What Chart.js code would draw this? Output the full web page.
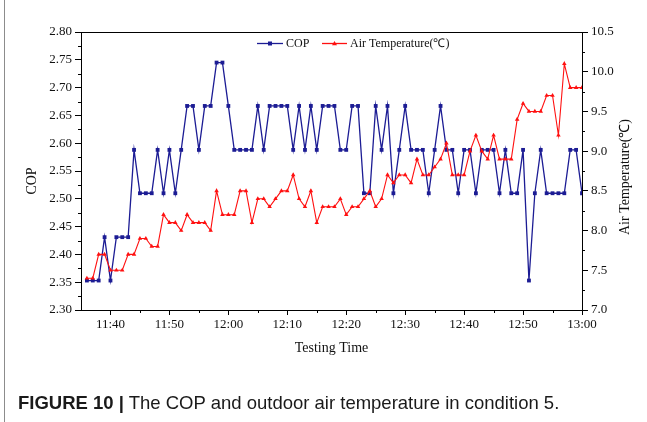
<!DOCTYPE html>
<html><head><meta charset="utf-8">
<script src="https://cdn.jsdelivr.net/npm/chart.js@4.4.1/dist/chart.umd.min.js"></script>
<style>
html,body{margin:0;padding:0;background:#fff;}
#wrap{position:relative;width:647px;height:422px;overflow:hidden;background:#fff;}
#c{position:absolute;left:0;top:0;}
#frame{position:absolute;left:4px;top:0;width:1px;height:422px;background:#8c8c8c;}
#cap{position:absolute;left:18px;top:392px;font-family:"Liberation Sans",Arial,sans-serif;font-size:18.5px;color:#1a1a1a;white-space:nowrap;line-height:22px;}
#cap b{font-weight:bold;}
</style></head><body>
<div id="wrap"><canvas id="c" width="647" height="422"></canvas><div id="frame"></div>
<div id="cap"><b>FIGURE 10 |</b> The COP and outdoor air temperature in condition 5.</div></div>
<script>
const timeLabels = ["11:36","11:37","11:38","11:39","11:40","11:41","11:42","11:43","11:44","11:45",
"11:46","11:47","11:48","11:49","11:50","11:51","11:52","11:53","11:54","11:55",
"11:56","11:57","11:58","11:59","12:00","12:01","12:02","12:03","12:04","12:05",
"12:06","12:07","12:08","12:09","12:10","12:11","12:12","12:13","12:14","12:15",
"12:16","12:17","12:18","12:19","12:20","12:21","12:22","12:23","12:24","12:25",
"12:26","12:27","12:28","12:29","12:30","12:31","12:32","12:33","12:34","12:35",
"12:36","12:37","12:38","12:39","12:40","12:41","12:42","12:43","12:44","12:45",
"12:46","12:47","12:48","12:49","12:50","12:51","12:52","12:53","12:54","12:55",
"12:56","12:57","12:58","12:59","13:00"];
const copValues = [2.353,2.353,2.353,2.431,2.353,2.431,2.431,2.431,2.588,2.510,
2.510,2.510,2.588,2.510,2.588,2.510,2.588,2.667,2.667,2.588,
2.667,2.667,2.745,2.745,2.667,2.588,2.588,2.588,2.588,2.667,
2.588,2.667,2.667,2.667,2.667,2.588,2.667,2.588,2.667,2.588,
2.667,2.667,2.667,2.588,2.588,2.667,2.667,2.510,2.510,2.667,
2.588,2.667,2.510,2.588,2.667,2.588,2.588,2.588,2.510,2.588,
2.667,2.588,2.588,2.510,2.588,2.588,2.510,2.588,2.588,2.588,
2.510,2.588,2.510,2.510,2.588,2.353,2.510,2.588,2.510,2.510,
2.510,2.510,2.588,2.588,2.510];
const tempValues = [7.4,7.4,7.7,7.7,7.5,7.5,7.5,7.7,7.7,7.9,
7.9,7.8,7.8,8.2,8.1,8.1,8.0,8.2,8.1,8.1,
8.1,8.0,8.5,8.2,8.2,8.2,8.5,8.5,8.1,8.4,
8.4,8.3,8.4,8.5,8.5,8.7,8.4,8.3,8.5,8.1,
8.3,8.3,8.3,8.4,8.2,8.3,8.3,8.4,8.5,8.3,
8.4,8.7,8.6,8.7,8.7,8.6,8.9,8.7,8.7,8.8,
8.9,9.1,8.7,8.7,8.7,9.0,9.2,9.0,8.9,9.2,
8.9,8.9,8.9,9.4,9.6,9.5,9.5,9.5,9.7,9.7,
9.2,10.1,9.8,9.8,9.8];
const xTickLabels = ["11:40","11:50","12:00","12:10","12:20","12:30","12:40","12:50","13:00"];
const xMinorLabels = ["11:45","11:55","12:05","12:15","12:25","12:35","12:45","12:55"];
const copTickLabels = ["2.30","2.35","2.40","2.45","2.50","2.55","2.60","2.65","2.70","2.75","2.80"];
const tempTickLabels = ["7.0","7.5","8.0","8.5","9.0","9.5","10.0","10.5"];
const xStart = "11:35", xEnd = "13:00";

const toMin = s => { const p = s.split(':').map(Number); const q = xStart.split(':').map(Number); return p[0]*60+p[1]-(q[0]*60+q[1]); };
const fromMin = v => { const q = xStart.split(':').map(Number); const t = q[0]*60+q[1]+Math.round(v); return Math.floor(t/60)+':'+String(t%60).padStart(2,'0'); };

const FONT = '"Liberation Serif","Times New Roman",serif';
const BLUE = '#1c1c94', RED = '#ff1010';

const extras = {
  id:'extras',
  afterDraw(chart){
    const ctx = chart.ctx, a = chart.chartArea;
    const sx = chart.scales.x, sy = chart.scales.y, sy1 = chart.scales.y1;
    ctx.save();
    ctx.strokeStyle = '#000'; ctx.lineWidth = 1;
    ctx.beginPath(); ctx.moveTo(a.left, Math.round(a.top)+0.5); ctx.lineTo(a.right+0.5, Math.round(a.top)+0.5); ctx.stroke();
    ctx.beginPath();
    for (let i=0;i<copTickLabels.length-1;i++){
      const v=(parseFloat(copTickLabels[i])+parseFloat(copTickLabels[i+1]))/2;
      const y=Math.round(sy.getPixelForValue(v))+0.5;
      ctx.moveTo(a.left-3,y); ctx.lineTo(a.left,y);
    }
    for (let i=0;i<tempTickLabels.length-1;i++){
      const v=(parseFloat(tempTickLabels[i])+parseFloat(tempTickLabels[i+1]))/2;
      const y=Math.round(sy1.getPixelForValue(v))+0.5;
      ctx.moveTo(a.right,y); ctx.lineTo(a.right+3,y);
    }
    xMinorLabels.forEach(t=>{
      const x=Math.round(sx.getPixelForValue(toMin(t)))+0.5;
      ctx.moveTo(x,a.bottom); ctx.lineTo(x,a.bottom+3);
    });
    ctx.stroke();
    ctx.fillStyle = '#111';
    ctx.font = '14px '+FONT;
    ctx.textAlign='center'; ctx.textBaseline='middle';
    ctx.fillText('Testing Time', (a.left+a.right)/2, 348);
    ctx.save(); ctx.translate(32, 181); ctx.rotate(-Math.PI/2); ctx.fillText('COP',0,0); ctx.restore();
    ctx.save(); ctx.translate(625, 177); ctx.rotate(-Math.PI/2); ctx.fillText('Air Temperature(\u2103)',0,0); ctx.restore();
    const ly = 43.5;
    ctx.font = '12px '+FONT; ctx.textAlign='left';
    ctx.strokeStyle = BLUE; ctx.lineWidth = 1.3;
    ctx.beginPath(); ctx.moveTo(257,ly); ctx.lineTo(283,ly); ctx.stroke();
    ctx.fillStyle = BLUE; ctx.fillRect(268,ly-2,4,4);
    ctx.fillStyle = '#111'; ctx.fillText('COP', 286, ly);
    ctx.strokeStyle = RED;
    ctx.beginPath(); ctx.moveTo(322,ly); ctx.lineTo(347,ly); ctx.stroke();
    ctx.fillStyle = RED; ctx.beginPath(); ctx.moveTo(334.5,ly-2.6); ctx.lineTo(337,ly+1.8); ctx.lineTo(332,ly+1.8); ctx.closePath(); ctx.fill();
    ctx.fillStyle = '#111'; ctx.fillText('Air Temperature(\u2103)', 350, ly);
    ctx.restore();
  }
};

new Chart(document.getElementById('c'), {
  type:'line',
  data:{
    datasets:[
      {label:'COP', data: timeLabels.map((t,i)=>({x:toMin(t), y:copValues[i]})), yAxisID:'y',
       borderColor:BLUE, backgroundColor:BLUE, borderWidth:1.3, pointStyle:'rect', pointRadius:2.7,
       pointBorderWidth:0, pointBackgroundColor:BLUE, tension:0, order:1},
      {label:'Air Temperature(\u2103)', data: timeLabels.map((t,i)=>({x:toMin(t), y:tempValues[i]})), yAxisID:'y1',
       borderColor:RED, backgroundColor:RED, borderWidth:1.1, pointStyle:'triangle', pointRadius:2.6,
       pointBorderWidth:0, pointBackgroundColor:RED, tension:0, order:0}
    ]
  },
  options:{
    responsive:false, animation:false, devicePixelRatio:1,
    layout:{padding:{left:0,right:0,top:32,bottom:0}},
    plugins:{legend:{display:false}, title:{display:false}, tooltip:{enabled:false}},
    scales:{
      x:{type:'linear', position:'bottom', min:toMin(xStart), max:toMin(xEnd),
         afterBuildTicks:s=>{ s.ticks = xTickLabels.map(t=>({value:toMin(t)})); },
         afterFit:s=>{ s.height = 112; },
         ticks:{callback:v=>fromMin(v), color:'#111', font:{family:FONT,size:13}, padding:2, maxRotation:0, autoSkip:false},
         grid:{drawOnChartArea:false, drawTicks:true, tickLength:5, color:'#000'},
         border:{display:true, color:'#000', width:1}},
      y:{type:'linear', position:'left', min:2.3, max:2.8,
         afterBuildTicks:s=>{ s.ticks = copTickLabels.map(t=>({value:parseFloat(t)})); },
         afterFit:s=>{ s.width = 81; },
         ticks:{callback:v=>v.toFixed(2), color:'#111', font:{family:FONT,size:13}, padding:3, autoSkip:false},
         grid:{drawOnChartArea:false, drawTicks:true, tickLength:6, color:'#000'},
         border:{display:true, color:'#000', width:1}},
      y1:{type:'linear', position:'right', min:7, max:10.5,
         afterBuildTicks:s=>{ s.ticks = tempTickLabels.map(t=>({value:parseFloat(t)})); },
         afterFit:s=>{ s.width = 65; },
         ticks:{callback:v=>v.toFixed(1), color:'#111', font:{family:FONT,size:13}, padding:3, autoSkip:false},
         grid:{drawOnChartArea:false, drawTicks:true, tickLength:6, color:'#000'},
         border:{display:true, color:'#000', width:1}}
    }
  },
  plugins:[extras]
});
</script>
</body></html>
